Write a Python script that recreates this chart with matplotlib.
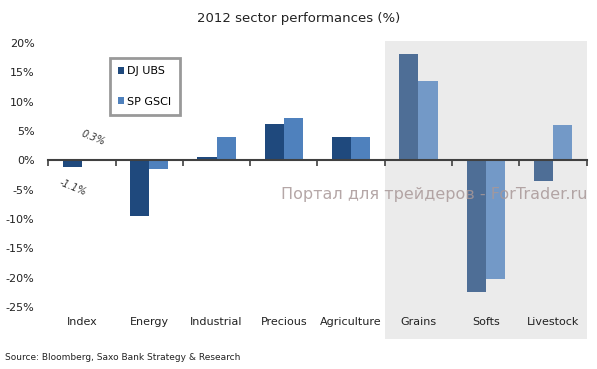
import matplotlib
matplotlib.use("Agg")
import matplotlib.pyplot as plt
from matplotlib.patches import Rectangle, Patch
import numpy as np

categories = ["Index", "Energy", "Industrial", "Precious", "Agriculture", "Grains", "Softs", "Livestock"]
dj_ubs = [-1.1, -9.5, 0.6, 6.2, 4.0, 18.2, -22.4, -3.6]
sp_gsci = [0.3, -1.5, 3.9, 7.3, 4.0, 13.5, -20.2, 6.1]
highlighted = ["Grains", "Softs", "Livestock"]
yticks = [20, 15, 10, 5, 0, -5, -10, -15, -20, -25]
series_names = ["DJ UBS", "SP GSCI"]
index_labels = ["-1.1%", "0.3%"]

c_dj = "#1f497d"
c_sp = "#4f81bd"

fig = plt.figure(figsize=(5.97, 3.69), dpi=100)
ax = fig.add_axes([0.081, 0.168, 0.9016, 0.7155])

x = np.arange(len(categories))
w = 0.285
alphas = [0.77 if c in highlighted else 1.0 for c in categories]
for i in range(len(categories)):
    ax.bar(x[i] - w / 2, dj_ubs[i], w, color=c_dj, alpha=alphas[i], zorder=3, linewidth=0)
    ax.bar(x[i] + w / 2, sp_gsci[i], w, color=c_sp, alpha=alphas[i], zorder=3, linewidth=0)

hl_idx = [categories.index(c) for c in highlighted]
x0 = min(hl_idx) - 0.5
x1 = max(hl_idx) + 0.5
ax.add_patch(Rectangle((x0, -30.5), x1 - x0, 50.8, facecolor="#ebebeb",
                       edgecolor="none", zorder=0, clip_on=False))

ax.set_xlim(-0.5, len(categories) - 0.5)
ax.set_ylim(-25, 20)
ax.set_yticks(yticks)
ax.set_yticklabels([f"{v}%" for v in yticks], fontsize=8, color="#222222")
ax.tick_params(axis="y", length=0, pad=10)

for s in ["top", "right", "left"]:
    ax.spines[s].set_visible(False)
ax.spines["bottom"].set_position(("data", 0))
ax.spines["bottom"].set_color("#404040")
ax.spines["bottom"].set_linewidth(1.5)
ax.spines["bottom"].set_zorder(4)
ax.set_xticks(np.arange(-0.5, len(categories), 1.0))
ax.set_xticklabels([])
ax.tick_params(axis="x", direction="out", length=4, width=1.2, color="#404040")

for i, c in enumerate(categories):
    ax.text(x[i], -0.055, c, transform=ax.get_xaxis_transform(), ha="center", va="center",
            fontsize=8, color="#222222")

ax.patch.set_alpha(0)

# data labels for index
ax.text(x[0] - w / 2 + 0.0, dj_ubs[0] - 3.6, index_labels[0], rotation=-22, fontsize=7,
        style="italic", color="#333333", ha="center", va="center")
ax.text(x[0] + w / 2 + 0.02, sp_gsci[0] + 3.5, index_labels[1], rotation=-22, fontsize=7,
        style="italic", color="#333333", ha="center", va="center")

handles = [Patch(facecolor=c_dj, edgecolor="none"), Patch(facecolor=c_sp, edgecolor="none")]
leg = fig.legend(handles, series_names, loc="upper left", bbox_to_anchor=(0.184, 0.843),
                 fontsize=8, handlelength=0.5, handleheight=0.6, handletextpad=0.3,
                 labelspacing=1.85, borderpad=0.75, frameon=True, fancybox=False,
                 borderaxespad=0)
leg.get_frame().set_edgecolor("#808080")
leg.get_frame().set_linewidth(2)

fig.text(0.5, 0.951, "2012 sector performances (%)", ha="center", va="center",
         fontsize=9.5, color="#222222")
fig.text(0.008, 0.03, "Source: Bloomberg, Saxo Bank Strategy & Research", ha="left",
         va="center", fontsize=6.5, color="#222222")
fig.text(0.727, 0.472, "Портал для трейдеров - ForTrader.ru", ha="center", va="center",
         fontsize=11.5, color="#a89898", alpha=0.85, zorder=10)

fig.savefig("out.png", dpi=100)
